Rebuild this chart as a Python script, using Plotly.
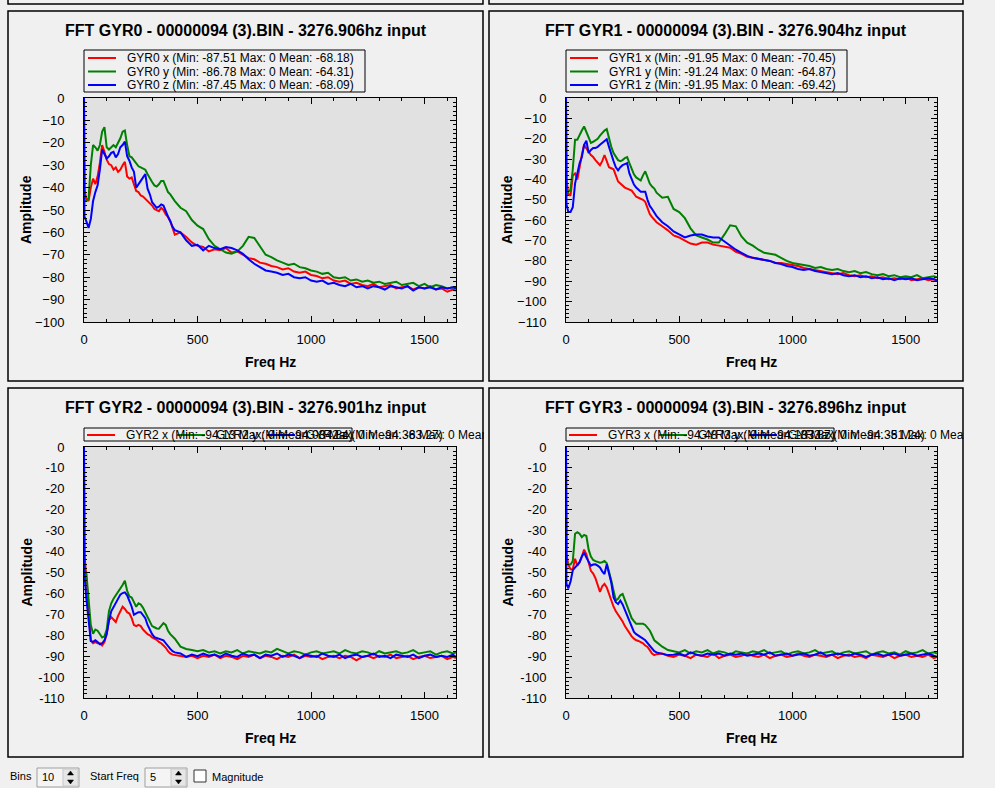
import plotly.graph_objects as go

# =============================================================================
# Data (amplitude in dB), shared frequency bins
# =============================================================================

FREQ = [0, 2, 10, 20, 30, 40, 50, 60, 70, 80,
        90, 100, 110, 120, 130, 140, 150, 160, 170, 180,
        190, 200, 210, 220, 230, 240, 250, 260, 270, 280,
        290, 300, 310, 320, 330, 340, 350, 360, 370, 380,
        390, 400,
        425, 450, 475, 500, 525, 550, 575, 600, 625, 650,
        675, 700, 725, 750, 775, 800, 825, 850, 875, 900,
        925, 950, 975, 1000, 1025, 1050, 1075, 1100, 1125, 1150,
        1175, 1200, 1225, 1250, 1275, 1300, 1325, 1350, 1375, 1400,
        1425, 1450, 1475, 1500, 1525, 1550, 1575, 1600, 1625, 1638.45]

GYR0_X = [0, -41, -45, -46, -40, -36, -38.5, -35, -29, -21,
          -24, -27.5, -29.5, -30, -32, -31, -33, -32, -30, -28.5,
          -35, -36, -35.5, -39, -41.5, -42, -43.5, -44, -45, -46,
          -47, -48, -49.5, -50, -50.5, -49, -50, -52, -53, -55,
          -58, -61,
          -60, -62, -64.5, -66, -66.5, -68.5, -67.5, -68, -67, -69,
          -68.5, -70, -71.5, -72, -73.5, -74, -75, -75.5, -76.5, -76,
          -77.5, -78, -77.5, -79, -79.5, -80.5, -80, -81.5, -82, -81.5,
          -83, -82.5, -83.5, -84, -83, -84.5, -84, -83.5, -85, -84.5,
          -84, -85.5, -84.5, -85, -84, -85.5, -85, -86.5, -85.5, -86]
GYR0_Y = [0, -46, -46, -45, -30, -21, -22, -23.5, -21, -15,
          -13, -22, -23, -22, -21, -22, -20, -18, -15, -14.5,
          -21, -26, -26.5, -28, -29.5, -30.5, -31, -31.5, -32, -34,
          -36, -37.5, -39, -39.5, -38.5, -37, -37, -39.5, -42, -43,
          -44.5, -46,
          -49, -50.5, -54.5, -57, -58.5, -63, -66, -67.5, -69, -69.5,
          -68.5, -66, -62, -62.5, -66.5, -70, -71, -72.5, -73.5, -74.5,
          -74, -75.5, -76, -77, -77.5, -78.5, -78, -80, -80.5, -80,
          -81.5, -81, -82, -81.5, -82.5, -82, -83, -82.5, -82, -83.5,
          -83, -82.5, -84, -83, -84.5, -83.5, -84, -85, -84.5, -85]
GYR0_Z = [0, -53, -55, -58, -54, -46, -42, -39, -32, -23,
          -25, -27, -26, -24.5, -24, -26.5, -25, -22, -21, -19.5,
          -26, -28, -31, -33, -40, -38.5, -37, -35, -34, -40.5,
          -43, -46.5, -48, -49, -48.5, -47.5, -48, -51, -53, -55,
          -57.5, -59,
          -60, -63.5, -66, -65.5, -68, -66, -67, -67.5, -66.5, -67,
          -68, -69.5, -72, -74, -75.5, -77, -77.5, -78, -79, -78.5,
          -80, -80.5, -80, -81.5, -82, -81.5, -83, -82.5, -83.5, -84,
          -83, -84.5, -84, -85, -84, -84.5, -85.5, -84, -84.5, -85,
          -84, -86, -84.5, -85, -84.5, -85.5, -84.5, -85, -84.5, -85]

GYR1_X = [0, -40, -47, -48, -38, -37, -40, -33, -28, -23,
          -25, -26.5, -28, -29, -30.5, -31.5, -33, -31, -28, -31,
          -34, -34.5, -35, -38, -41, -42, -43, -44, -44.5, -45,
          -45.5, -47, -48.5, -49, -49.5, -50, -51, -54, -57, -58.5,
          -60, -61,
          -63, -65, -67.5, -68.5, -70, -71.5, -72, -71, -71, -72,
          -72.5, -73, -73.5, -75.5, -76.5, -78, -78.5, -79, -79.5, -80,
          -81, -81, -81.5, -82, -82.5, -83.5, -84, -84.5, -85, -85.5,
          -86, -86.5, -86, -87, -87.5, -87, -88, -87.5, -88.5, -88,
          -89, -88.5, -89, -88, -89.5, -89, -88.5, -89.5, -89, -90]
GYR1_Y = [0, -48, -46, -45, -35, -20.5, -20.5, -18, -16, -14,
          -17, -20, -22, -21.5, -20.5, -20, -18.5, -17, -16, -15.3,
          -20, -24, -27, -29, -30.5, -31, -30.5, -29.5, -29, -32,
          -35, -37.5, -39, -40, -40.5, -38, -36, -39, -42, -43.5,
          -44.5, -46.5,
          -49, -48.5, -54.5, -56, -59, -64, -67.5, -68.5, -69.5, -71,
          -71, -67, -62.5, -63, -68, -71, -72.5, -74.5, -76, -76.5,
          -77, -78.5, -80, -81, -81.5, -82, -82.5, -83.5, -83, -84,
          -84.5, -84, -85, -85.5, -85, -86, -85.5, -86.5, -87, -86.5,
          -87.5, -87, -88, -87.5, -88, -87, -88.5, -88, -87.5, -88]
GYR1_Z = [0, -52, -56, -56, -53.6, -42, -37, -32, -29, -23,
          -21, -27, -25.5, -24.5, -24.5, -24, -23, -22, -21, -20.3,
          -24, -28, -31, -34, -35.5, -34, -33, -32.5, -32, -37,
          -40, -42.5, -44, -45, -46, -46, -46, -50, -53, -54.5,
          -56, -58,
          -61, -63, -65.5, -67, -68.5, -67.5, -67, -67, -68, -68.5,
          -68.5, -70.5, -72.5, -74.5, -76, -77.5, -78.5, -79, -79.5, -80,
          -81, -81.5, -82.5, -83, -84, -84.5, -84, -85, -85.5, -86,
          -86.5, -86, -87, -87.5, -87, -88, -87.5, -88.5, -88, -89,
          -88.5, -89.5, -88.5, -89, -88.5, -89.5, -89, -88.5, -89, -89.5]

GYR2_X = [0, -47, -57, -72, -84.7, -86, -85.5, -86, -86, -87,
          -85.5, -82, -76, -74.5, -75.5, -76.7, -74, -71.7, -70, -71,
          -72.4, -73, -75, -78, -78.5, -78, -78.5, -80, -81, -82,
          -82.5, -83.5, -84, -84.5, -85.4, -86, -87, -88, -89.5, -90.5,
          -91, -91.2,
          -91.5, -92, -91.5, -92.5, -91.5, -92, -91, -92.5, -91.5, -92,
          -93, -91.5, -92, -91, -92.5, -91.5, -92, -93, -91.5, -92,
          -91, -92.5, -91.5, -92, -91.5, -93, -92, -91.5, -92.5, -91.5,
          -92, -93.5, -92, -91.5, -92.5, -91.5, -92, -91, -92.5, -92,
          -91.5, -93, -92, -91.5, -92.5, -92, -91.5, -93, -92, -92.5]
GYR2_Y = [0, -54, -55, -66, -78, -81.8, -80, -80.5, -82, -83.5,
          -83, -80, -72, -68.5, -66.5, -65, -63.5, -62.5, -60.5, -58.6,
          -63, -65.5, -66, -68, -70, -68.5, -69, -70.5, -72.5, -75,
          -77, -78.5, -79, -79.5, -79.6, -78.5, -77.2, -78, -80.5, -82,
          -83, -84,
          -87.5, -88.5, -89, -89.5, -89, -90, -89.5, -90.5, -89.5, -90,
          -89, -90.5, -89.5, -90, -90.5, -89.5, -90, -88.5, -89.5, -90.5,
          -89.5, -90, -91, -90, -89.5, -90.5, -90, -89.5, -90.5, -89,
          -90, -90.5, -89.5, -90, -91, -89.5, -90.5, -90, -89.5, -90.5,
          -90, -89, -90.5, -90, -89.5, -91, -90, -89.5, -90.5, -90]
GYR2_Z = [0, -56, -66, -77, -85, -85.4, -84.7, -85.5, -86.5, -86,
          -84.7, -82, -76, -72, -70, -68.5, -66.5, -64.7, -64, -63.7,
          -65, -67.3, -70, -73.5, -73, -72.4, -72.4, -73.5, -75, -78,
          -80.4, -82, -83.3, -83.6, -84, -84.3, -84.7, -86, -87.5, -88.5,
          -89.5, -90,
          -90.5, -92, -91, -91.7, -90.5, -91.5, -91, -92, -90.5, -91.5,
          -92, -90.5, -91.5, -91, -92.5, -91, -91.5, -90.5, -92, -91,
          -91.5, -92.5, -91, -91.5, -92, -90.5, -91.5, -92, -91, -92.5,
          -91.5, -91, -92, -91.5, -90.5, -92, -91.5, -92.5, -91, -91.5,
          -92, -91, -92.5, -91.5, -91, -92, -91.5, -92, -91, -92]

GYR3_X = [0, -47, -51.5, -53.6, -53.6, -49, -52, -50.5, -48, -45,
          -47, -51, -54.3, -55.5, -57.5, -60.5, -63.5, -61, -60, -61.5,
          -64.4, -67.5, -70, -72, -73.5, -74.6, -76.5, -78.5, -80, -82,
          -83, -84, -84.7, -85, -85.4, -86, -87, -87.6, -89, -90.5,
          -91.2, -90.8,
          -90.5, -91.5, -92, -91, -91.5, -92.5, -91, -91.5, -92, -90.5,
          -92.5, -91.5, -91, -92, -91.5, -90.5, -91.5, -92, -91, -92.5,
          -91.5, -91, -92, -91.5, -90.5, -91.5, -92, -91, -91.5, -92,
          -91, -92.5, -91.5, -91, -92, -91.5, -92.5, -91, -91.5, -92,
          -91, -92.5, -91.5, -91, -92, -91.5, -92, -91, -92.5, -92]
GYR3_Y = [0, -50, -51.4, -51.5, -50, -38, -37.3, -38, -39.5, -38.5,
          -39, -45, -48, -49.5, -50, -50.5, -50.7, -50.5, -50, -51,
          -54.3, -58.5, -63, -67.3, -66.5, -65, -64.4, -67, -70.2, -72.5,
          -75, -76.3, -77.5, -77.5, -77.5, -77.5, -78, -79.5, -80.4, -82.5,
          -84.7, -85.5,
          -87.5, -89, -89.5, -90, -89, -90.5, -89.5, -90, -89, -90.5,
          -89.5, -90, -91, -89.5, -90, -90.5, -89.5, -90, -89, -90.5,
          -90, -89.5, -91, -90, -89.5, -90.5, -90, -89, -90.5, -90,
          -89.5, -91, -90, -89.5, -90.5, -90, -89.5, -91, -90, -89.5,
          -90.5, -90, -91, -89.5, -90.5, -90, -89, -90.5, -90, -90.5]
GYR3_Z = [0, -60, -62, -59, -54, -52.8, -52, -50.5, -48, -46.3,
          -48.5, -50.5, -52, -51.5, -51.4, -52, -52.8, -54.5, -55.7, -51.4,
          -55, -59.5, -65.9, -68, -68.8, -67.3, -69, -71.5, -73.5, -76.5,
          -78.5, -81, -82, -82.8, -83.3, -84, -84.7, -86, -87, -88.3,
          -89.5, -90,
          -90.5, -91.2, -91, -90.5, -91.5, -90, -91, -91.5, -90.5, -91,
          -90.5, -91.5, -90.5, -91, -90.5, -91.5, -91, -90.5, -91, -90,
          -91.5, -91, -90.5, -91.5, -91, -90.5, -91.5, -91, -90, -91.5,
          -91, -90.5, -91, -91.5, -90.5, -91, -92, -91, -90.5, -91.5,
          -91, -90.5, -91.5, -91, -90.5, -91.5, -91, -90.5, -91.5, -92]

TITLES = ["FFT GYR0 - 00000094 (3).BIN - 3276.906hz input",
          "FFT GYR1 - 00000094 (3).BIN - 3276.904hz input",
          "FFT GYR2 - 00000094 (3).BIN - 3276.901hz input",
          "FFT GYR3 - 00000094 (3).BIN - 3276.896hz input"]

GYR0_NAMES = ["GYR0 x (Min: -87.51 Max: 0 Mean: -68.18)",
              "GYR0 y (Min: -86.78 Max: 0 Mean: -64.31)",
              "GYR0 z (Min: -87.45 Max: 0 Mean: -68.09)"]
GYR1_NAMES = ["GYR1 x (Min: -91.95 Max: 0 Mean: -70.45)",
              "GYR1 y (Min: -91.24 Max: 0 Mean: -64.87)",
              "GYR1 z (Min: -91.95 Max: 0 Mean: -69.42)"]
GYR2_NAMES = ["GYR2 x (Min: -94.13 Max: 0 Mean: -84.84)",
              "GYR2 y (Min: -94.03 Max: 0 Mean: -83.27)",
              "GYR2 z (Min: -94.36 Max: 0 Mean: -84.95)"]
GYR3_NAMES = ["GYR3 x (Min: -94.48 Max: 0 Mean: -83.87)",
              "GYR3 y (Min: -94.13 Max: 0 Mean: -81.24)",
              "GYR3 z (Min: -94.35 Max: 0 Mean: -83.97)"]

# the lower charts use 12 equal steps over 110 dB, labels as the app prints them
LOW_TICK_LABELS = ["0", "-10", "-20", "-20", "-30", "-40", "-50", "-60",
                   "-70", "-80", "-90", "-100", "-110"]

# =============================================================================
# Page geometry (pixels of the 995x788 window)
# =============================================================================

W, H = 995, 788
FONT = "Liberation Sans"
RGB = ["#FF0000", "#008000", "#0000FF"]


def px(x):
    return x / W


def py(y):
    return 1 - y / H


panels = [
    dict(series=[GYR0_X, GYR0_Y, GYR0_Z], names=GYR0_NAMES, title=TITLES[0],
         plot=(84, 456, 98, 322), frame=(8, 483, 11, 381), ymin=-100, legend="stack"),
    dict(series=[GYR1_X, GYR1_Y, GYR1_Z], names=GYR1_NAMES, title=TITLES[1],
         plot=(566, 937, 98, 322), frame=(489, 963, 11, 381), ymin=-110, legend="stack"),
    dict(series=[GYR2_X, GYR2_Y, GYR2_Z], names=GYR2_NAMES, title=TITLES[2],
         plot=(84, 456, 447, 698), frame=(8, 483, 388, 757), ymin=-110, legend="row"),
    dict(series=[GYR3_X, GYR3_Y, GYR3_Z], names=GYR3_NAMES, title=TITLES[3],
         plot=(566, 937, 447, 698), frame=(489, 963, 388, 757), ymin=-110, legend="row"),
]

fig = go.Figure()
shapes = []
annotations = []
tick_font = dict(family=FONT, size=13, color="black")

for i, p in enumerate(panels, start=1):
    sfx = "" if i == 1 else str(i)
    x0, x1, y0, y1 = p["plot"]
    fx0, fx1, fy0, fy1 = p["frame"]

    for ys, c in zip(p["series"], RGB):
        fig.add_trace(go.Scatter(x=FREQ, y=ys, mode="lines",
                                 line=dict(color=c, width=2),
                                 xaxis="x" + sfx, yaxis="y" + sfx,
                                 showlegend=False, hoverinfo="skip"))

    fig.layout["xaxis" + sfx] = dict(
        domain=[px(x0), px(x1)], anchor="y" + sfx, range=[0, 1638.45],
        tick0=0, dtick=500, ticks="inside", ticklen=6, tickcolor="black",
        minor=dict(dtick=100, ticks="inside", ticklen=3, tickcolor="black"),
        showline=True, linecolor="black", linewidth=1, mirror="allticks",
        showgrid=False, zeroline=False, tickfont=tick_font,
        ticklabelstandoff=5, automargin=False)

    yax = dict(
        domain=[py(y1), py(y0)], anchor="x" + sfx, range=[p["ymin"], 0],
        ticks="inside", ticklen=6, tickcolor="black",
        showline=True, linecolor="black", linewidth=1, mirror="allticks",
        showgrid=False, zeroline=False, tickfont=tick_font,
        ticklabelstandoff=16, automargin=False)
    if p["legend"] == "stack":
        yax.update(tick0=0, dtick=10,
                   minor=dict(dtick=2, ticks="inside", ticklen=3, tickcolor="black"))
    else:
        step = 110 / 12
        yax.update(tickmode="array",
                   tickvals=[-step * k for k in range(13)], ticktext=LOW_TICK_LABELS,
                   minor=dict(tick0=0, dtick=step / 5, ticks="inside", ticklen=3,
                              tickcolor="black"))
    fig.layout["yaxis" + sfx] = yax

    # panel frame
    shapes.append(dict(type="rect", xref="paper", yref="paper",
                       x0=px(fx0), x1=px(fx1), y0=py(fy1), y1=py(fy0),
                       line=dict(color="black", width=1.5)))

    # titles
    annotations.append(dict(text="<b>%s</b>" % p["title"], xref="paper", yref="paper",
                            x=px((fx0 + fx1) / 2), y=py(fy0 + 19), showarrow=False,
                            xanchor="center", yanchor="middle",
                            font=dict(family=FONT, size=16, color="black")))
    annotations.append(dict(text="<b>Amplitude</b>", xref="paper", yref="paper",
                            x=px(fx0 + 18), y=py((y0 + y1) / 2), textangle=-90,
                            showarrow=False, xanchor="center", yanchor="middle",
                            font=dict(family=FONT, size=14, color="black")))
    annotations.append(dict(text="<b>Freq Hz</b>", xref="paper", yref="paper",
                            x=px((x0 + x1) / 2), y=py(y1 + 40), showarrow=False,
                            xanchor="center", yanchor="middle",
                            font=dict(family=FONT, size=14, color="black")))

    # legend box drawn the way the app lays it out
    leg_font = dict(family=FONT, size=12, color="black")
    if p["legend"] == "stack":
        shapes.append(dict(type="rect", xref="paper", yref="paper",
                           x0=px(x0), x1=px(x0 + 281), y0=py(92), y1=py(50),
                           line=dict(color="black", width=1)))
        for k, (name, c) in enumerate(zip(p["names"], RGB)):
            ry = 58 + 13.5 * k
            shapes.append(dict(type="line", xref="paper", yref="paper",
                               x0=px(x0 + 4), x1=px(x0 + 32), y0=py(ry), y1=py(ry),
                               line=dict(color=c, width=2)))
            annotations.append(dict(text=name, xref="paper", yref="paper",
                                    x=px(x0 + 41), y=py(ry), showarrow=False,
                                    xanchor="left", yanchor="middle", font=leg_font))
    else:
        shapes.append(dict(type="rect", xref="paper", yref="paper",
                           x0=px(x0), x1=px(x0 + 268), y0=py(441), y1=py(428),
                           line=dict(color="black", width=1)))
        for k, (name, c) in enumerate(zip(p["names"], RGB)):
            lx = x0 + 3 + 90 * k
            shapes.append(dict(type="line", xref="paper", yref="paper",
                               x0=px(lx), x1=px(lx + 28), y0=py(435), y1=py(435),
                               line=dict(color=c, width=2)))
            tx = lx + 38
            annotations.append(dict(text=name, xref="paper", yref="paper",
                                    x=px(tx), y=py(435), showarrow=False,
                                    xanchor="left", yanchor="middle", align="left",
                                    width=fx1 - tx, borderpad=0, font=leg_font))

# bottoms of the panels in the row above (scrolled out of view)
for fx0, fx1 in [(8, 483), (489, 963)]:
    shapes.append(dict(type="rect", xref="paper", yref="paper",
                       x0=px(fx0), x1=px(fx1), y0=py(4), y1=py(-40),
                       line=dict(color="black", width=1.5)))

# =============================================================================
# Controls strip under the charts
# =============================================================================

ctl_font = dict(family=FONT, size=11, color="black")
for label, lx in [("Bins", 8), ("Start Freq", 88)]:
    annotations.append(dict(text=label, xref="paper", yref="paper", x=px(lx), y=py(776),
                            showarrow=False, xanchor="left", yanchor="middle", font=ctl_font))
for value, bx in [("10", 37), ("5", 145)]:
    shapes.append(dict(type="rect", xref="paper", yref="paper",
                       x0=px(bx), x1=px(bx + 42), y0=py(787), y1=py(768),
                       line=dict(color="#A0A0A0", width=1), fillcolor="#F4F4F4"))
    shapes.append(dict(type="rect", xref="paper", yref="paper",
                       x0=px(bx + 26), x1=px(bx + 41), y0=py(786), y1=py(769),
                       line=dict(color="#C8C8C8", width=1), fillcolor="#E6E6E6"))
    cx = bx + 33.5
    shapes.append(dict(type="path", xref="paper", yref="paper",
                       path="M %f,%f L %f,%f L %f,%f Z" % (px(cx - 3), py(775), px(cx + 3), py(775),
                                                           px(cx), py(771)),
                       fillcolor="black", line=dict(color="black", width=0.5)))
    shapes.append(dict(type="path", xref="paper", yref="paper",
                       path="M %f,%f L %f,%f L %f,%f Z" % (px(cx - 3), py(780), px(cx + 3), py(780),
                                                           px(cx), py(784)),
                       fillcolor="black", line=dict(color="black", width=0.5)))
    annotations.append(dict(text=value, xref="paper", yref="paper", x=px(bx + 3), y=py(777),
                            showarrow=False, xanchor="left", yanchor="middle", font=ctl_font))
shapes.append(dict(type="rect", xref="paper", yref="paper",
                   x0=px(194), x1=px(206), y0=py(782), y1=py(770),
                   line=dict(color="#333333", width=1), fillcolor="white"))
annotations.append(dict(text="Magnitude", xref="paper", yref="paper", x=px(210), y=py(777),
                        showarrow=False, xanchor="left", yanchor="middle", font=ctl_font))

fig.update_layout(
    width=W, height=H, autosize=False,
    margin=dict(l=0, r=0, t=0, b=0, pad=0, autoexpand=False),
    paper_bgcolor="#F0F0F0", plot_bgcolor="#E1E1E1",
    showlegend=False,
    shapes=shapes, annotations=annotations,
    font=dict(family=FONT, color="black"),
)

# the page body keeps its default margin otherwise, which shifts the whole window
fig.write_html("out.html",
               config={"displayModeBar": False},
               post_script="document.body.style.margin='0px';"
                           "document.body.style.overflow='hidden';")
